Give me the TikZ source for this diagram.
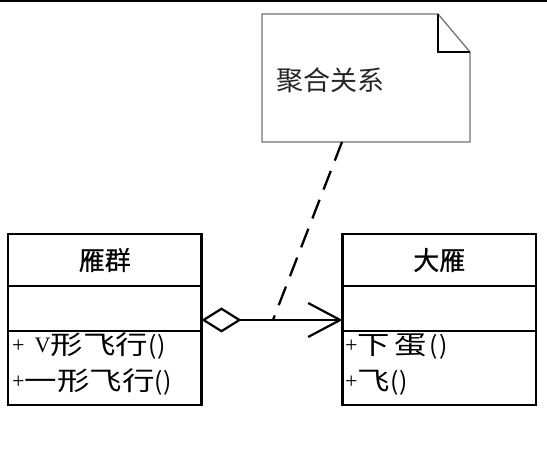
\documentclass[tikz,border=0pt]{standalone}
\usepackage{fontspec}
\setmainfont{Noto Sans CJK SC}
\newfontfamily\mf[FakeStretch=1.25]{Noto Sans CJK SC}
\newfontfamily\hf[FakeBold=0.6]{Noto Sans CJK SC}
\newfontfamily\latf[Scale=0.85]{Liberation Serif}
\newfontfamily\parf[Scale=0.95]{Noto Sans CJK SC}
\newcommand\lt[1]{\raisebox{2pt}{\latf #1}}
\newcommand\pr{{\parf(\hspace{1pt})}}
\usetikzlibrary{arrows.meta,calc}
\tikzset{
  cls/.style={draw=black, line width=2.4pt, minimum width=193.5pt, inner sep=0pt, outer sep=0pt},
  hdr/.style={cls, minimum height=52pt, font=\hf\fontsize{26}{28}\selectfont},
  attr/.style={cls, minimum height=45pt},
  meth/.style={cls, minimum height=74pt, anchor=north},
  mline/.style={anchor=base west, inner sep=0pt, font=\mf\fontsize{26}{28}\selectfont},
  notebox/.style={minimum width=208pt, minimum height=128pt, inner sep=0pt, outer sep=0pt},
  noteline/.style={draw=gray!90!black, line width=1.3pt},
}
\begin{document}
\begin{tikzpicture}[x=1pt,y=-1pt]
\useasboundingbox (0,0) rectangle (547,465);
\draw[line width=2.2pt] (0,1) -- (547,1);
% note
\node[notebox] (note) at (366,78) {};
\draw[noteline, fill=white] (note.north west) -- ([xshift=-32pt]note.north east) -- ([yshift=-38pt]note.north east) -- (note.south east) -- (note.south west) -- cycle;
\draw[line width=1.1pt] ([xshift=-32pt]note.north east) |- ([yshift=-38pt]note.north east);
\node[anchor=west, inner sep=0pt, font=\fontsize{27}{29}\selectfont, text=black!85] (ntext) at (276,80) {聚合关系};
% left class
\node[hdr] (A1) at (104.75,260) {雁群};
\node[attr, anchor=north] (A2) at (A1.south) {};
\node[meth] (A3) at (A2.south) {};
\node[mline] (A3a) at (12,355) {\lt{+}\hspace{10pt}\lt{V}形飞行\pr};
\node[mline] (A3b) at (12,391) {\lt{+}一形飞行\pr};
% right class
\node[hdr] (B1) at (439.25,260) {大雁};
\node[attr, anchor=north] (B2) at (B1.south) {};
\node[meth] (B3) at (B2.south) {};
\node[mline] (B3a) at (345,355) {\lt{+}下\hspace{4pt}蛋\hspace{3pt}\pr};
\node[mline] (B3b) at (345,391) {\lt{+}飞\pr};
% aggregation
\coordinate (m) at (273,320);
\draw[line width=1.5pt, {Diamond[open,length=40pt,width=25pt,line width=2.2pt,fill=white]}-{Straight Barb[length=32pt,width=34pt,line width=2.2pt]}] (A2.east |- m) -- (B2.west |- m);
\draw[line width=2.3pt, dash pattern=on 20pt off 11pt] (note.south -| 342,0) -- (m);
\end{tikzpicture}
\end{document}
